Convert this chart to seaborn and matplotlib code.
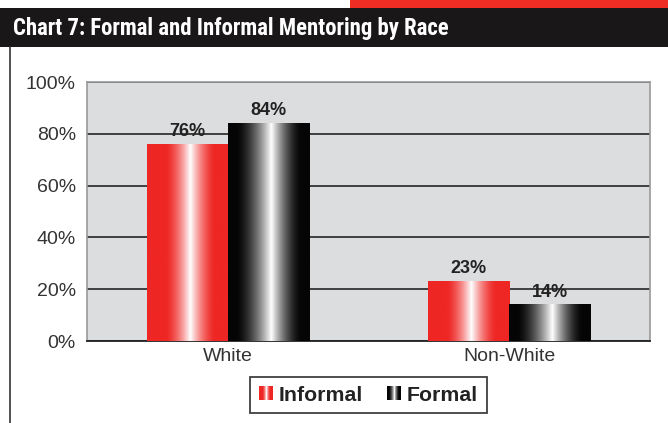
import numpy as np
import pandas as pd
import matplotlib
matplotlib.use("Agg")
import matplotlib.pyplot as plt
import seaborn as sns
from matplotlib.patches import Rectangle
from matplotlib.lines import Line2D
from matplotlib.legend_handler import HandlerBase
from matplotlib.colors import to_rgb
from matplotlib import font_manager

# data
races = ["White", "Non-White"]
informal = [76, 23]
formal = [84, 14]
series = ["Informal", "Formal"]

df = pd.DataFrame({
    "race": races * 2,
    "share": informal + formal,
    "type": ["Informal"] * 2 + ["Formal"] * 2,
})

RED = "#ee2624"
BLACK = "#050505"
BG = "#dcdddf"

sns.set_style("white")
plt.rcParams["font.family"] = ["Liberation Sans", "DejaVu Sans"]

# narrow face for the header if one is installed
installed = {f.name for f in font_manager.fontManager.ttflist}
narrow = [n for n in ["Roboto Condensed", "Liberation Sans Narrow",
                      "DejaVu Sans Condensed", "Open Sans Condensed"]
          if n in installed]


def profile(n, start, peak, end):
    # white weight across the bar width (0 = base colour, 1 = white)
    t = np.linspace(0, 1, n)
    w = np.zeros(n)
    up = (t >= start) & (t <= peak)
    dn = (t > peak) & (t <= end)
    w[up] = ((t[up] - start) / (peak - start)) ** 1.6
    w[dn] = (1 - (t[dn] - peak) / (end - peak)) ** 1.6
    return w


def gradient(color, start, peak, end, n=200):
    base = np.array(to_rgb(color))
    w = profile(n, start, peak, end)[:, None]
    rgb = base * (1 - w) + np.ones(3) * w
    return rgb[None, :, :]


grads = {
    "Informal": gradient(RED, 0.22, 0.53, 0.84),
    "Formal": gradient(BLACK, 0.10, 0.53, 0.90),
}

fig = plt.figure(figsize=(6.68, 4.23), dpi=100)
ax = fig.add_axes([87 / 668, 82 / 423, 563 / 668, 259 / 423])
ax.set_facecolor(BG)

sns.barplot(data=df, x="race", y="share", hue="type", hue_order=series,
            order=races, palette=[RED, BLACK], width=0.576, saturation=1,
            linewidth=0, ax=ax, zorder=2)
if ax.legend_ is not None:
    ax.legend_.remove()

# paint the gradient over each bar, using the bar's own geometry
for cont, name in zip(ax.containers, series):
    for bar in cont:
        x, y = bar.get_x(), bar.get_y()
        w, h = bar.get_width(), bar.get_height()
        ax.imshow(grads[name], extent=[x, x + w, y, y + h], aspect="auto",
                  interpolation="bilinear", zorder=3)
    ax.bar_label(cont, fmt="{:.0f}%", padding=3, fontsize=13,
                 fontweight="bold", color="#222222", zorder=4)

ax.set_xlim(-0.5, 1.5)
ax.set_ylim(0, 100)
ax.set_yticks(range(0, 101, 20))
ax.set_yticklabels([f"{v}%" for v in range(0, 101, 20)], fontsize=14,
                   color="#333333")
ax.set_xlabel("")
ax.set_ylabel("")
ax.tick_params(axis="x", length=0, labelsize=14, labelcolor="#333333", pad=5)
ax.tick_params(axis="y", length=5, width=1.2, color="#222222", pad=3)
ax.set_xticks([-0.5, 0.5, 1.5], minor=True)
ax.tick_params(axis="x", which="minor", length=6, width=1.2, color="#999999")

ax.yaxis.grid(True, color="#333333", linewidth=1.3)
ax.set_axisbelow(True)
for side in ["left", "right", "top"]:
    ax.spines[side].set_color("#999999")
    ax.spines[side].set_linewidth(1.2)
ax.spines["bottom"].set_color("#222222")
ax.spines["bottom"].set_linewidth(1.3)


class GradHandler(HandlerBase):
    def __init__(self, grad):
        super().__init__()
        self.grad = grad[0]

    def create_artists(self, legend, orig_handle, xdescent, ydescent,
                       width, height, fontsize, trans):
        n = 14
        idx = np.linspace(0, len(self.grad) - 1, n).astype(int)
        sw = width / n
        arts = []
        for i, k in enumerate(idx):
            r = Rectangle((-xdescent + i * sw, -ydescent), sw * 1.05, height,
                          facecolor=self.grad[k], edgecolor="none",
                          transform=trans)
            arts.append(r)
        return arts


handles = [Rectangle((0, 0), 1, 1, label=s) for s in series]
leg = fig.legend(handles=handles, labels=series, loc="center",
                 bbox_to_anchor=(368.5 / 668, (423 - 395) / 423), ncol=2,
                 frameon=True, fancybox=False, edgecolor="#111111",
                 handlelength=0.65, handleheight=0.65, handletextpad=0.3,
                 columnspacing=1.1, borderpad=0.4,
                 prop={"weight": "bold", "size": 15.3},
                 handler_map={handles[0]: GradHandler(grads["Informal"]),
                              handles[1]: GradHandler(grads["Formal"])})
leg.get_frame().set_linewidth(1.3)
for t in leg.get_texts():
    t.set_color("#222222")

# header: red strip and black title bar
fig.patches.append(Rectangle((350 / 668, 1 - 8 / 423), 1, 8 / 423,
                             transform=fig.transFigure, facecolor="#ee2e24",
                             edgecolor="none"))
fig.patches.append(Rectangle((0, 1 - 47 / 423), 1, 39 / 423,
                             transform=fig.transFigure, facecolor="#1a1718",
                             edgecolor="none"))
fig.lines.append(Line2D([10 / 668, 10 / 668], [0, 1 - 47 / 423],
                        transform=fig.transFigure, color="#333333",
                        linewidth=1.2))
title = "Chart 7: Formal and Informal Mentoring by Race"
if narrow:
    fig.text(13 / 668, 1 - 28 / 423, title, color="white", fontsize=16.4,
             fontweight="bold", va="center", family=[narrow[0], "DejaVu Sans"])
else:
    fig.text(13 / 668, 1 - 28 / 423, title, color="white", fontsize=14,
             fontweight="bold", va="center")

fig.savefig("out.png", dpi=100)
